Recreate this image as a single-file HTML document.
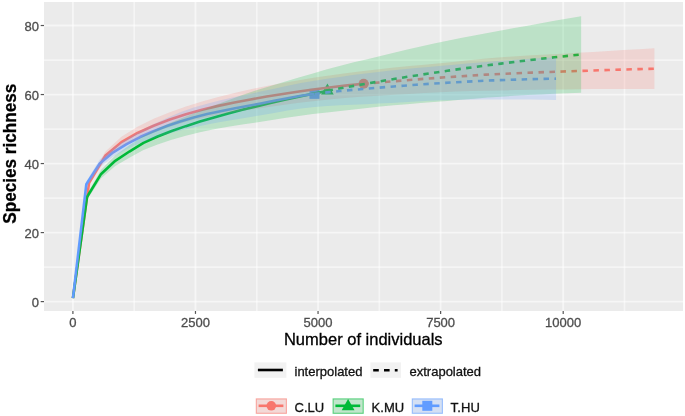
<!DOCTYPE html>
<html><head><meta charset="utf-8"><style>
html,body{margin:0;padding:0;background:#fff;width:685px;height:416px;overflow:hidden}
svg{display:block;filter:blur(0.35px)}
</style></head><body>
<svg width="685" height="416" viewBox="0 0 685 416">
<rect width="685" height="416" fill="#fff"/>
<rect x="44" y="2" width="639" height="309" fill="#EBEBEB"/>
<line x1="134.19" y1="2" x2="134.19" y2="311" stroke="#fff" stroke-width="1.7" stroke-opacity="0.5"/>
<line x1="256.76" y1="2" x2="256.76" y2="311" stroke="#fff" stroke-width="1.7" stroke-opacity="0.5"/>
<line x1="379.34" y1="2" x2="379.34" y2="311" stroke="#fff" stroke-width="1.7" stroke-opacity="0.5"/>
<line x1="501.91" y1="2" x2="501.91" y2="311" stroke="#fff" stroke-width="1.7" stroke-opacity="0.5"/>
<line x1="624.49" y1="2" x2="624.49" y2="311" stroke="#fff" stroke-width="1.7" stroke-opacity="0.5"/>
<line x1="44" y1="267.09" x2="683" y2="267.09" stroke="#fff" stroke-width="1.7" stroke-opacity="0.5"/>
<line x1="44" y1="198.07" x2="683" y2="198.07" stroke="#fff" stroke-width="1.7" stroke-opacity="0.5"/>
<line x1="44" y1="129.05" x2="683" y2="129.05" stroke="#fff" stroke-width="1.7" stroke-opacity="0.5"/>
<line x1="44" y1="60.03" x2="683" y2="60.03" stroke="#fff" stroke-width="1.7" stroke-opacity="0.5"/>
<line x1="72.90" y1="2" x2="72.90" y2="311" stroke="#fff" stroke-width="1.8" stroke-opacity="0.55"/>
<line x1="195.47" y1="2" x2="195.47" y2="311" stroke="#fff" stroke-width="1.8" stroke-opacity="0.55"/>
<line x1="318.05" y1="2" x2="318.05" y2="311" stroke="#fff" stroke-width="1.8" stroke-opacity="0.55"/>
<line x1="440.62" y1="2" x2="440.62" y2="311" stroke="#fff" stroke-width="1.8" stroke-opacity="0.55"/>
<line x1="563.20" y1="2" x2="563.20" y2="311" stroke="#fff" stroke-width="1.8" stroke-opacity="0.55"/>
<line x1="44" y1="301.60" x2="683" y2="301.60" stroke="#fff" stroke-width="1.8" stroke-opacity="0.55"/>
<line x1="44" y1="232.58" x2="683" y2="232.58" stroke="#fff" stroke-width="1.8" stroke-opacity="0.55"/>
<line x1="44" y1="163.56" x2="683" y2="163.56" stroke="#fff" stroke-width="1.8" stroke-opacity="0.55"/>
<line x1="44" y1="94.54" x2="683" y2="94.54" stroke="#fff" stroke-width="1.8" stroke-opacity="0.55"/>
<line x1="44" y1="25.52" x2="683" y2="25.52" stroke="#fff" stroke-width="1.8" stroke-opacity="0.55"/>
<circle cx="363.65" cy="83.74" r="5.1" fill="#F8766D"/>
<polygon points="327.42,83.62 333.74,94.57 321.10,94.57" fill="#00BA38"/>
<rect x="309.47" y="88.85" width="10.00" height="10.00" fill="#619CFF"/>
<polyline points="72.95,298.15 89.08,182.89 105.21,155.85 121.39,142.12 137.52,132.98 153.65,125.75 169.83,119.53 185.96,114.18 202.09,109.72 218.27,105.89 234.40,102.52 250.54,99.46 266.72,96.59 282.85,93.92 298.98,91.46 315.16,89.22 331.29,87.20 347.42,85.36 363.60,83.74 363.65,83.74" fill="none" stroke="#F8766D" stroke-width="2.6" stroke-linejoin="round"/>
<polyline points="363.65,83.74 363.70,83.73 378.99,82.49 394.29,81.24 409.59,79.99 424.89,78.78 440.18,77.66 455.48,76.61 470.78,75.59 486.08,74.66 501.37,73.86 516.67,73.18 531.97,72.58 547.27,72.03 562.56,71.52 577.86,71.01 593.16,70.50 608.45,70.01 623.75,69.54 639.05,69.09 654.40,68.66" fill="none" stroke="#F8766D" stroke-width="2.6" stroke-dasharray="5.495 5.495" stroke-dashoffset="0.60" stroke-linejoin="round"/>
<polyline points="72.95,298.15 87.02,197.04 101.14,173.93 115.26,160.82 129.38,151.52 143.50,142.93 157.62,136.50 171.70,131.02 185.82,126.14 199.94,121.61 214.06,117.40 228.18,113.51 242.30,109.85 256.37,106.37 270.49,103.01 284.61,99.79 298.73,96.72 312.85,93.77 326.97,90.93 327.02,90.92" fill="none" stroke="#00BA38" stroke-width="2.6" stroke-linejoin="round"/>
<polyline points="327.02,90.92 327.07,90.91 340.41,88.34 353.79,85.88 367.18,83.51 380.51,81.23 393.90,79.00 407.28,76.84 420.67,74.75 434.01,72.74 447.39,70.79 460.78,68.89 474.16,67.06 487.50,65.31 500.88,63.61 514.27,61.97 527.65,60.37 540.99,58.83 554.37,57.33 567.76,55.89 581.14,54.51" fill="none" stroke="#00BA38" stroke-width="2.6" stroke-dasharray="5.400 5.400" stroke-dashoffset="10.22" stroke-linejoin="round"/>
<polyline points="72.95,298.15 86.33,184.27 99.77,163.43 113.15,152.37 126.59,144.17 140.02,137.04 153.41,131.24 166.84,126.05 180.23,121.44 193.66,117.46 207.10,114.10 220.48,111.18 233.91,108.52 247.30,106.00 260.73,103.43 274.17,100.77 287.55,98.18 300.99,95.81 314.42,93.86 314.47,93.85" fill="none" stroke="#619CFF" stroke-width="2.6" stroke-linejoin="round"/>
<polyline points="314.47,93.85 314.52,93.84 327.22,92.36 339.92,91.05 352.62,89.88 365.36,88.79 378.06,87.74 390.76,86.71 403.46,85.71 416.21,84.76 428.91,83.89 441.61,83.09 454.30,82.34 467.05,81.62 479.75,80.97 492.45,80.40 505.15,79.94 517.90,79.53 530.60,79.18 543.29,78.88 556.04,78.67" fill="none" stroke="#619CFF" stroke-width="2.6" stroke-dasharray="5.470 5.470" stroke-dashoffset="0.12" stroke-linejoin="round"/>
<polygon points="72.95,298.15 89.08,180.47 105.21,151.74 121.39,136.64 137.52,126.63 153.65,118.87 169.83,112.26 185.96,106.52 202.09,101.55 218.27,97.06 234.40,92.99 250.54,89.31 266.72,85.97 282.85,82.93 298.98,80.14 315.16,77.55 331.29,75.18 347.42,72.99 363.60,70.98 363.65,70.97 363.70,70.96 378.99,69.21 394.29,67.62 409.59,66.10 424.89,64.63 440.18,63.18 455.48,61.67 470.78,60.09 486.08,58.60 501.37,57.31 516.67,56.26 531.97,55.32 547.27,54.47 562.56,53.64 577.86,52.80 593.16,51.91 608.45,51.01 623.75,50.11 639.05,49.20 654.40,48.30 654.40,89.02 639.05,88.98 623.75,88.98 608.45,89.02 593.16,89.10 577.86,89.22 562.56,89.39 547.27,89.60 531.97,89.84 516.67,90.11 501.37,90.41 486.08,90.73 470.78,91.09 455.48,91.54 440.18,92.14 424.89,92.94 409.59,93.89 394.29,94.86 378.99,95.77 363.70,96.50 363.65,96.51 363.60,96.51 347.42,97.72 331.29,99.21 315.16,100.89 298.98,102.79 282.85,104.91 266.72,107.21 250.54,109.62 234.40,112.06 218.27,114.72 202.09,117.89 185.96,121.83 169.83,126.80 153.65,132.63 137.52,139.33 121.39,147.60 105.21,159.97 89.08,185.30 72.95,298.15" fill="#F8766D" fill-opacity="0.2"/>
<polygon points="72.95,298.15 87.02,194.29 101.14,169.71 115.26,155.53 129.38,145.29 143.50,135.75 157.62,128.49 171.70,122.20 185.82,116.46 199.94,110.91 214.06,105.45 228.18,100.17 242.30,95.12 256.37,90.35 270.49,85.88 284.61,81.64 298.73,77.55 312.85,73.50 326.97,69.36 327.02,69.35 327.07,69.33 340.41,65.74 353.79,62.37 367.18,59.14 380.51,55.95 393.90,52.74 407.28,49.55 420.67,46.45 434.01,43.49 447.39,40.69 460.78,38.03 474.16,35.48 487.50,33.00 500.88,30.54 514.27,28.09 527.65,25.65 540.99,23.25 554.37,20.87 567.76,18.52 581.14,16.20 581.14,92.81 567.76,93.27 554.37,93.80 540.99,94.41 527.65,95.10 514.27,95.85 500.88,96.68 487.50,97.61 474.16,98.65 460.78,99.76 447.39,100.88 434.01,101.98 420.67,103.05 407.28,104.13 393.90,105.27 380.51,106.50 367.18,107.88 353.79,109.38 340.41,110.94 327.07,112.48 327.02,112.49 326.97,112.49 312.85,114.03 298.73,115.88 284.61,117.94 270.49,120.13 256.37,122.38 242.30,124.59 228.18,126.84 214.06,129.35 199.94,132.30 185.82,135.82 171.70,139.84 157.62,144.52 143.50,150.10 129.38,157.74 115.26,166.12 101.14,178.15 87.02,199.80 72.95,298.15" fill="#00BA38" fill-opacity="0.2"/>
<polygon points="72.95,298.15 86.33,181.51 99.77,159.61 113.15,147.88 126.59,139.08 140.02,131.12 153.41,124.26 166.84,117.94 180.23,112.30 193.66,107.53 207.10,103.66 220.48,100.34 233.91,97.35 247.30,94.50 260.73,91.60 274.17,88.63 287.55,85.75 300.99,83.07 314.42,80.74 314.47,80.74 314.52,80.73 327.22,78.77 339.92,76.89 352.62,75.10 365.36,73.43 378.06,71.91 390.76,70.53 403.46,69.26 416.21,68.06 428.91,66.92 441.61,65.81 454.30,64.69 467.05,63.55 479.75,62.45 492.45,61.42 505.15,60.50 517.90,59.62 530.60,58.78 543.29,58.00 556.04,57.27 556.04,100.06 543.29,99.77 530.60,99.57 517.90,99.45 505.15,99.38 492.45,99.38 479.75,99.49 467.05,99.70 454.30,100.00 441.61,100.37 428.91,100.86 416.21,101.47 403.46,102.16 390.76,102.88 378.06,103.58 365.36,104.16 352.62,104.67 339.92,105.22 327.22,105.94 314.52,106.96 314.47,106.96 314.42,106.97 300.99,108.55 287.55,110.61 274.17,112.91 260.73,115.26 247.30,117.50 233.91,119.70 220.48,122.01 207.10,124.53 193.66,127.39 180.23,130.59 166.84,134.16 153.41,138.22 140.02,142.97 126.59,149.26 113.15,156.86 99.77,167.25 86.33,187.03 72.95,298.15" fill="#619CFF" fill-opacity="0.2"/>
<line x1="40.7" y1="301.60" x2="44" y2="301.60" stroke="#555" stroke-width="1.2"/>
<text x="38.9" y="306.70" text-anchor="end" font-size="13" fill="#4D4D4D" stroke="#4D4D4D" font-family="Liberation Sans, Arial, sans-serif" stroke-width="0.3">0</text>
<line x1="40.7" y1="232.58" x2="44" y2="232.58" stroke="#555" stroke-width="1.2"/>
<text x="38.9" y="237.68" text-anchor="end" font-size="13" fill="#4D4D4D" stroke="#4D4D4D" font-family="Liberation Sans, Arial, sans-serif" stroke-width="0.3">20</text>
<line x1="40.7" y1="163.56" x2="44" y2="163.56" stroke="#555" stroke-width="1.2"/>
<text x="38.9" y="168.66" text-anchor="end" font-size="13" fill="#4D4D4D" stroke="#4D4D4D" font-family="Liberation Sans, Arial, sans-serif" stroke-width="0.3">40</text>
<line x1="40.7" y1="94.54" x2="44" y2="94.54" stroke="#555" stroke-width="1.2"/>
<text x="38.9" y="99.64" text-anchor="end" font-size="13" fill="#4D4D4D" stroke="#4D4D4D" font-family="Liberation Sans, Arial, sans-serif" stroke-width="0.3">60</text>
<line x1="40.7" y1="25.52" x2="44" y2="25.52" stroke="#555" stroke-width="1.2"/>
<text x="38.9" y="30.62" text-anchor="end" font-size="13" fill="#4D4D4D" stroke="#4D4D4D" font-family="Liberation Sans, Arial, sans-serif" stroke-width="0.3">80</text>
<line x1="72.90" y1="311" x2="72.90" y2="313.9" stroke="#555" stroke-width="1.2"/>
<text x="72.90" y="326.6" text-anchor="middle" font-size="13" fill="#4D4D4D" stroke="#4D4D4D" font-family="Liberation Sans, Arial, sans-serif" stroke-width="0.3">0</text>
<line x1="195.47" y1="311" x2="195.47" y2="313.9" stroke="#555" stroke-width="1.2"/>
<text x="195.47" y="326.6" text-anchor="middle" font-size="13" fill="#4D4D4D" stroke="#4D4D4D" font-family="Liberation Sans, Arial, sans-serif" stroke-width="0.3">2500</text>
<line x1="318.05" y1="311" x2="318.05" y2="313.9" stroke="#555" stroke-width="1.2"/>
<text x="318.05" y="326.6" text-anchor="middle" font-size="13" fill="#4D4D4D" stroke="#4D4D4D" font-family="Liberation Sans, Arial, sans-serif" stroke-width="0.3">5000</text>
<line x1="440.62" y1="311" x2="440.62" y2="313.9" stroke="#555" stroke-width="1.2"/>
<text x="440.62" y="326.6" text-anchor="middle" font-size="13" fill="#4D4D4D" stroke="#4D4D4D" font-family="Liberation Sans, Arial, sans-serif" stroke-width="0.3">7500</text>
<line x1="563.20" y1="311" x2="563.20" y2="313.9" stroke="#555" stroke-width="1.2"/>
<text x="563.20" y="326.6" text-anchor="middle" font-size="13" fill="#4D4D4D" stroke="#4D4D4D" font-family="Liberation Sans, Arial, sans-serif" stroke-width="0.3">10000</text>
<text x="363.3" y="344.7" text-anchor="middle" font-size="16.5" fill="#000" stroke="#000" font-family="Liberation Sans, Arial, sans-serif" stroke-width="0.3">Number of individuals</text>
<text transform="translate(15.7,153.75) rotate(-90)" text-anchor="middle" font-size="18" font-weight="bold" textLength="139.9" lengthAdjust="spacingAndGlyphs" fill="#000" stroke="#000" font-family="Liberation Sans, Arial, sans-serif" stroke-width="0.3">Species richness</text>
<rect x="254.4" y="362.4" width="32" height="15.4" fill="#F2F2F2"/>
<line x1="257.9" y1="370" x2="282.9" y2="370" stroke="#000" stroke-width="2.6"/>
<text x="294.5" y="375.7" font-size="13" fill="#111" stroke="#111" font-family="Liberation Sans, Arial, sans-serif" stroke-width="0.3">interpolated</text>
<rect x="370.4" y="362.4" width="30.6" height="15.4" fill="#F2F2F2"/>
<line x1="373.2" y1="370.2" x2="397.6" y2="370.2" stroke="#000" stroke-width="2.6" stroke-dasharray="5.6 5.2"/>
<text x="409.5" y="375.7" font-size="13" fill="#111" stroke="#111" font-family="Liberation Sans, Arial, sans-serif" stroke-width="0.3">extrapolated</text>
<rect x="256.30" y="398.9" width="30.1" height="14.4" fill="#F2F2F2"/>
<rect x="256.30" y="398.9" width="30.1" height="14.4" fill="#F8766D" fill-opacity="0.2" stroke="#F8766D" stroke-opacity="0.6" stroke-width="1.1"/>
<line x1="258.60" y1="405.8" x2="283.40" y2="405.8" stroke="#F8766D" stroke-width="2.6"/>
<circle cx="271.30" cy="405.8" r="4.8" fill="#F8766D"/>
<text x="294.6" y="411.9" font-size="13" fill="#111" stroke="#111" font-family="Liberation Sans, Arial, sans-serif" stroke-width="0.3">C.LU</text>
<rect x="333.10" y="398.9" width="30.1" height="14.4" fill="#F2F2F2"/>
<rect x="333.10" y="398.9" width="30.1" height="14.4" fill="#00BA38" fill-opacity="0.2" stroke="#00BA38" stroke-opacity="0.6" stroke-width="1.1"/>
<line x1="335.40" y1="405.8" x2="360.20" y2="405.8" stroke="#00BA38" stroke-width="2.6"/>
<polygon points="348.10,399.10 354.51,410.20 341.69,410.20" fill="#00BA38"/>
<text x="371.6" y="411.9" font-size="13" fill="#111" stroke="#111" font-family="Liberation Sans, Arial, sans-serif" stroke-width="0.3">K.MU</text>
<rect x="412.30" y="398.9" width="30.1" height="14.4" fill="#F2F2F2"/>
<rect x="412.30" y="398.9" width="30.1" height="14.4" fill="#619CFF" fill-opacity="0.2" stroke="#619CFF" stroke-opacity="0.6" stroke-width="1.1"/>
<line x1="414.60" y1="405.8" x2="439.40" y2="405.8" stroke="#619CFF" stroke-width="2.6"/>
<rect x="422.30" y="400.80" width="10" height="10" fill="#619CFF"/>
<text x="450.6" y="411.9" font-size="13" fill="#111" stroke="#111" textLength="29.4" font-family="Liberation Sans, Arial, sans-serif" stroke-width="0.3">T.HU</text>
</svg>
</body></html>
